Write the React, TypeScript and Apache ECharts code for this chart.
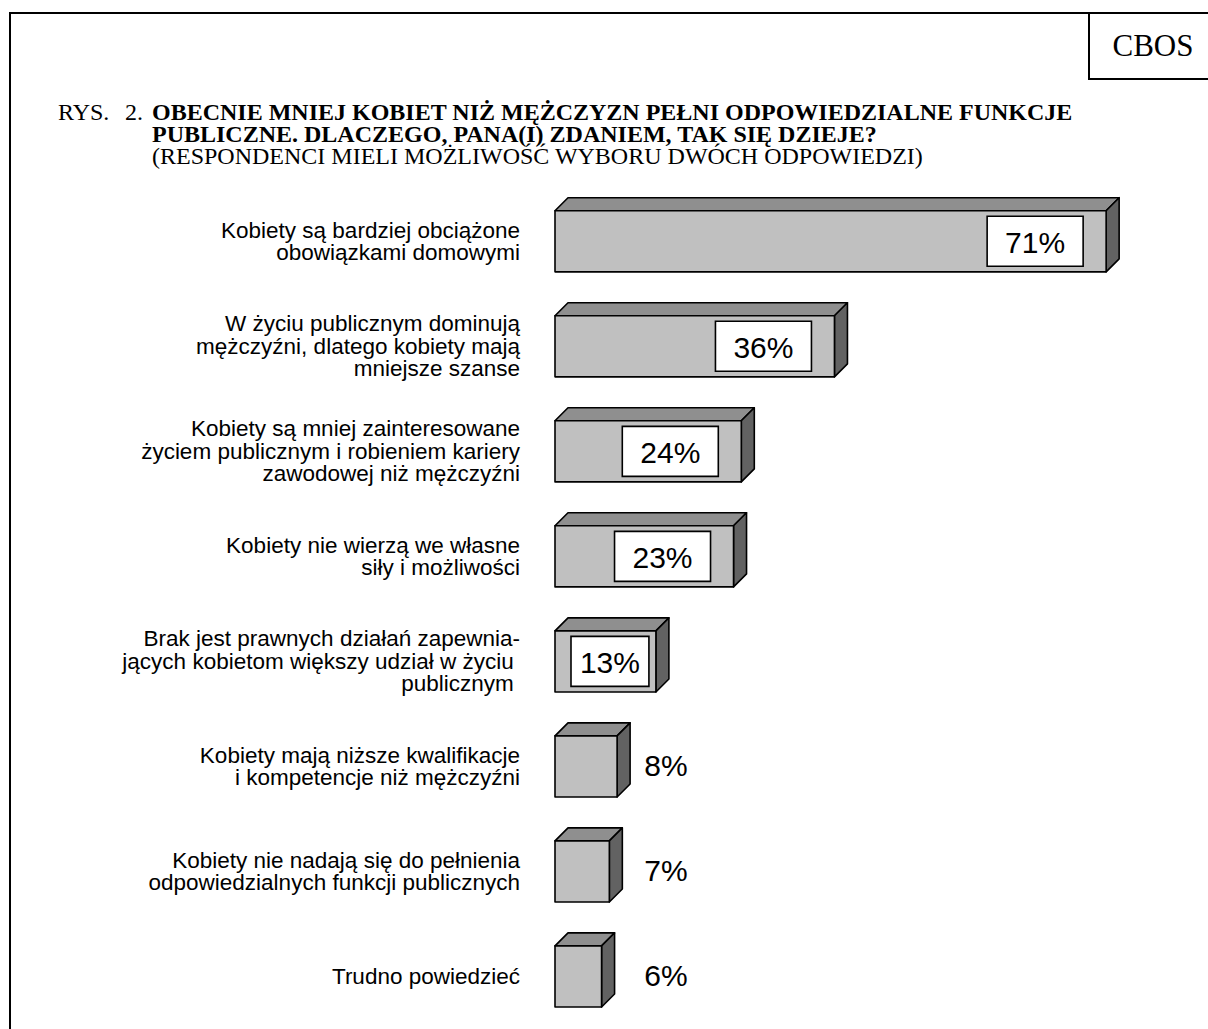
import React, { useEffect, useRef } from "react";
import * as echarts from "echarts";

const categories: string[] = [
  "Kobiety są bardziej obciążone\nobowiązkami domowymi",
  "W życiu publicznym dominują\nmężczyźni, dlatego kobiety mają\nmniejsze szanse",
  "Kobiety są mniej zainteresowane\nżyciem publicznym i robieniem kariery\nzawodowej niż mężczyźni",
  "Kobiety nie wierzą we własne\nsiły i możliwości",
  "Brak jest prawnych działań zapewnia-\njących kobietom większy udział w życiu \npublicznym ",
  "Kobiety mają niższe kwalifikacje\ni kompetencje niż mężczyźni",
  "Kobiety nie nadają się do pełnienia\nodpowiedzialnych funkcji publicznych",
  "Trudno powiedzieć",
];
const values: number[] = [71, 36, 24, 23, 13, 8, 7, 6];

const titleLines: string[] = [
  "OBECNIE MNIEJ KOBIET NIŻ MĘŻCZYZN PEŁNI ODPOWIEDZIALNE FUNKCJE",
  "PUBLICZNE. DLACZEGO, PANA(I) ZDANIEM, TAK SIĘ DZIEJE?",
];
const subtitle = "(RESPONDENCI MIELI MOŻLIWOŚĆ WYBORU DWÓCH ODPOWIEDZI)";

const SANS = "'Liberation Sans', Arial, sans-serif";
const SERIF = "'Liberation Serif', 'Times New Roman', serif";

export default function App() {
  const ref = useRef<HTMLDivElement>(null);
  useEffect(() => {
    document.body.style.margin = "0";
    const chart = echarts.init(ref.current!, undefined, { renderer: "svg" });
    const DX = 13;
    const DY = 13;
    const renderItem = (params: any, api: any) => {
      const v = api.value(0);
      const ci = api.value(1);
      const end = api.coord([v, ci]);
      const start = api.coord([0, ci]);
      const band = api.size([0, 1])[1];
      const h = band * 0.582;
      const x0 = start[0];
      const x1 = end[0];
      const yc = end[1];
      const y0 = yc - h / 2;
      const y1 = yc + h / 2;
      const stroke = { stroke: "#000", lineWidth: 1.6, lineJoin: "round" };
      const children: any[] = [
        {
          type: "polygon",
          shape: { points: [[x0, y0], [x0 + DX, y0 - DY], [x1 + DX, y0 - DY], [x1, y0]] },
          style: { fill: "#8f8f8f", ...stroke },
        },
        {
          type: "polygon",
          shape: { points: [[x1, y0], [x1 + DX, y0 - DY], [x1 + DX, y1 - DY], [x1, y1]] },
          style: { fill: "#626262", ...stroke },
        },
        {
          type: "rect",
          shape: { x: x0, y: y0, width: x1 - x0, height: h },
          style: { fill: "#c0c0c0", ...stroke },
        },
      ];
      const label = v + "%";
      if (v >= 10) {
        let right = x1 - 23;
        let left = right - 96;
        if (left < x0 + 16) {
          left = x0 + 16;
          right = x1 - 7;
        }
        children.push({
          type: "rect",
          shape: { x: left, y: yc - 25, width: right - left, height: 50 },
          style: { fill: "#fff", stroke: "#000", lineWidth: 1.6 },
        });
        children.push({
          type: "text",
          style: {
            text: label,
            x: (left + right) / 2,
            y: yc + 1,
            align: "center",
            verticalAlign: "middle",
            fontSize: 30,
            fontFamily: SANS,
            fill: "#000",
          },
        });
      } else {
        const lx = api.coord([14.3, ci])[0];
        children.push({
          type: "text",
          style: {
            text: label,
            x: lx,
            y: yc - 1,
            align: "center",
            verticalAlign: "middle",
            fontSize: 30,
            fontFamily: SANS,
            fill: "#000",
          },
        });
      }
      return { type: "group", children };
    };

    const titleText = (text: string, x: number, y: number, bold: boolean, size = 24) => ({
      type: "text",
      x,
      y,
      style: {
        text,
        fontSize: size,
        lineHeight: 22,
        fontWeight: bold ? "bold" : "normal",
        fontFamily: SERIF,
        fill: "#000",
        verticalAlign: "middle",
        align: "left",
      },
    });

    chart.setOption({
      animation: false,
      backgroundColor: "#fff",
      grid: { left: 555, top: 188.75, width: 621, height: 852, containLabel: false },
      xAxis: { type: "value", min: 0, max: 80, show: false },
      yAxis: {
        type: "category",
        data: categories,
        inverse: true,
        axisLine: { show: false },
        axisTick: { show: false },
        splitLine: { show: false },
        axisLabel: {
          interval: 0,
          margin: 35,
          fontSize: 22.5,
          lineHeight: 22.5,
          fontFamily: SANS,
          color: "#000",
          align: "right",
        },
      },
      graphic: [
        {
          type: "rect",
          shape: { x: 10, y: 13, width: 1400, height: 1200 },
          style: { fill: "none", stroke: "#000", lineWidth: 2 },
          silent: true,
        },
        {
          type: "rect",
          shape: { x: 1089, y: 13, width: 200, height: 66 },
          style: { fill: "#fff", stroke: "#000", lineWidth: 2 },
          silent: true,
        },
        {
          type: "text",
          x: 1153,
          y: 45,
          style: {
            text: "CBOS",
            fontSize: 31,
            fontFamily: SERIF,
            fill: "#000",
            align: "center",
            verticalAlign: "middle",
          },
        },
        titleText("RYS.", 58, 112, false),
        titleText("2.", 125, 112, false),
        titleText(titleLines[0], 152, 112, true),
        titleText(titleLines[1], 152, 134, true),
        titleText(subtitle, 152, 156, false),
      ],
      series: [
        {
          type: "custom",
          renderItem,
          clip: false,
          encode: { x: 0, y: 1 },
          data: values.map((v, i) => [v, i]),
        },
      ],
    });
    return () => chart.dispose();
  }, []);
  return <div ref={ref} style={{ width: 1208, height: 1029 }} />;
}
